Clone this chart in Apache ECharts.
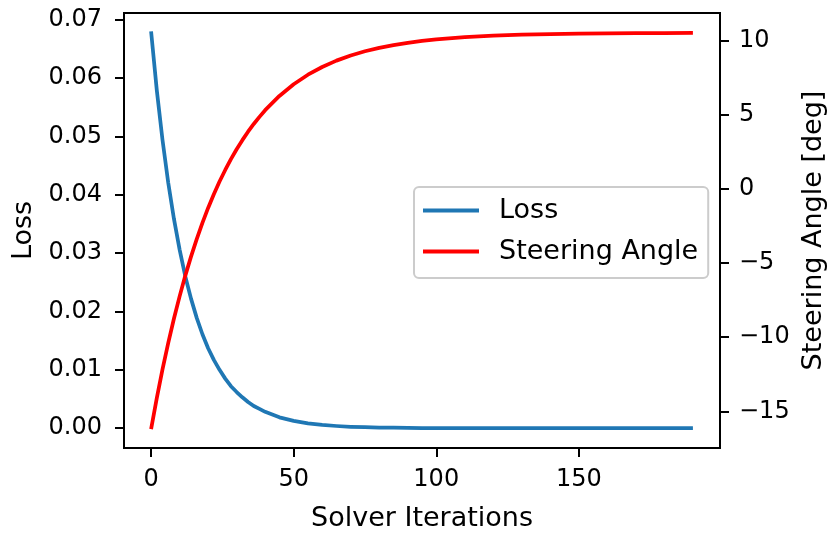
<!DOCTYPE html>
<html>
<head>
<meta charset="utf-8">
<script src="https://cdn.jsdelivr.net/npm/echarts@6/dist/echarts.min.js"></script>
<style>
  html, body { margin: 0; padding: 0; background: #ffffff; }
  #chart { width: 836px; height: 535px; }
</style>
</head>
<body>
<div id="chart"></div>
<script>
// Solver iteration at which each sample was recorded
const iterations = [0, 2, 4, 6, 8, 10, 12, 14, 16, 18, 20, 22, 24, 26, 28, 30, 32, 34, 36, 38, 40,
  45, 50, 55, 60, 65, 70, 75, 80, 85, 90, 95, 100, 110, 120, 130, 140, 150, 160, 170, 180, 190];

// Optimisation loss (left axis)
const lossValues = [0.0680, 0.0579, 0.0494, 0.0421, 0.0359, 0.0306, 0.0260, 0.0222, 0.0189, 0.0161, 0.0137,
  0.0117, 0.0100, 0.0085, 0.0072, 0.0062, 0.0053, 0.0045, 0.0038, 0.0033, 0.0028,
  0.00186, 0.00125, 0.00084, 0.00056, 0.00038, 0.00025, 0.00017, 0.00011, 0.00008, 0.00005, 0.00003, 0.00002,
  0.00001, 0.0, 0.0, 0.0, 0.0, 0.0, 0.0, 0.0, 0.0];

// Steering angle in degrees (right axis)
const steeringValues = [-16.20, -14.11, -12.17, -10.40, -8.76, -7.25, -5.85, -4.57, -3.39, -2.30, -1.29,
  -0.37, 0.49, 1.27, 2.00, 2.67, 3.28, 3.85, 4.37, 4.85, 5.30,
  6.26, 7.05, 7.69, 8.21, 8.64, 8.99, 9.27, 9.50, 9.69, 9.84, 9.97, 10.07,
  10.22, 10.32, 10.39, 10.43, 10.46, 10.48, 10.49, 10.50, 10.51];

// Tick labels
const xTicks = [0, 50, 100, 150];
const lossTicks = [0.00, 0.01, 0.02, 0.03, 0.04, 0.05, 0.06, 0.07];
const angleTicks = [-15, -10, -5, 0, 5, 10];

const FONT = 'DejaVu Sans';
const TICK_FS = 24;
const LABEL_FS = 27;

const pairs = (ys) => iterations.map((x, i) => [x, ys[i]]);
const minus = (s) => String(s).replace('-', '\u2212');

const chart = echarts.init(document.getElementById('chart'), null, { renderer: 'canvas' });

chart.setOption({
  animation: false,
  backgroundColor: '#ffffff',
  textStyle: { fontFamily: FONT },
  grid: {
    left: 124, right: 116, top: 13, bottom: 87,
    outerBoundsMode: 'none', containLabel: false,
    show: true, borderColor: '#000000', borderWidth: 2, backgroundColor: 'transparent'
  },
  legend: {
    orient: 'vertical',
    left: 414, top: 187,
    padding: [8, 10, 11, 9],
    itemGap: 10,
    itemWidth: 56, itemHeight: 4,
    icon: 'rect',
    borderColor: '#cccccc', borderWidth: 2, borderRadius: 5,
    backgroundColor: 'rgba(255,255,255,0.8)',
    textStyle: { fontFamily: FONT, fontSize: LABEL_FS, color: '#000000', lineHeight: 31, padding: [0, 0, 0, 15] },
    data: ['Loss', 'Steering Angle']
  },
  xAxis: {
    type: 'value',
    min: -9.5, max: 199.5,
    name: 'Solver Iterations',
    nameLocation: 'middle', nameGap: 57,
    nameTextStyle: { fontFamily: FONT, fontSize: LABEL_FS, color: '#000000' },
    splitLine: { show: false },
    axisLine: { show: true, onZero: false, lineStyle: { color: '#000000', width: 2 } },
    axisTick: { show: true, length: 9, lineStyle: { color: '#000000', width: 2 }, customValues: xTicks },
    axisLabel: { fontFamily: FONT, fontSize: TICK_FS, color: '#000000', margin: 20, customValues: xTicks,
      formatter: (v) => String(Math.round(v)) }
  },
  yAxis: [
    {
      type: 'value',
      min: -0.00339, max: 0.07114,
      name: 'Loss',
      nameLocation: 'middle', nameGap: 86, nameRotate: 90,
      nameTextStyle: { fontFamily: FONT, fontSize: LABEL_FS, color: '#000000' },
      splitLine: { show: false },
      axisLine: { show: true, onZero: false, lineStyle: { color: '#000000', width: 2 } },
      axisTick: { show: true, length: 9, lineStyle: { color: '#000000', width: 2 }, customValues: lossTicks },
      axisLabel: { fontFamily: FONT, fontSize: TICK_FS, color: '#000000', margin: 22, customValues: lossTicks,
        formatter: (v) => v.toFixed(2) }
    },
    {
      type: 'value',
      position: 'right',
      min: -17.47, max: 11.85,
      name: 'Steering Angle [deg]',
      nameLocation: 'middle', nameGap: 80, nameRotate: 90,
      nameTextStyle: { fontFamily: FONT, fontSize: LABEL_FS, color: '#000000' },
      splitLine: { show: false },
      axisLine: { show: true, onZero: false, lineStyle: { color: '#000000', width: 2 } },
      axisTick: { show: true, length: 9, lineStyle: { color: '#000000', width: 2 }, customValues: angleTicks },
      axisLabel: { fontFamily: FONT, fontSize: TICK_FS, color: '#000000', margin: 19, customValues: angleTicks,
        formatter: (v) => minus(Math.round(v)) }
    }
  ],
  series: [
    {
      name: 'Loss', type: 'line', yAxisIndex: 0,
      data: pairs(lossValues),
      showSymbol: false, smooth: false,
      itemStyle: { color: '#1f77b4' },
      lineStyle: { color: '#1f77b4', width: 3.75, join: 'round', cap: 'butt' }
    },
    {
      name: 'Steering Angle', type: 'line', yAxisIndex: 1,
      data: pairs(steeringValues),
      showSymbol: false, smooth: false,
      itemStyle: { color: '#ff0000' },
      lineStyle: { color: '#ff0000', width: 3.75, join: 'round', cap: 'butt' }
    }
  ]
});
</script>
</body>
</html>
